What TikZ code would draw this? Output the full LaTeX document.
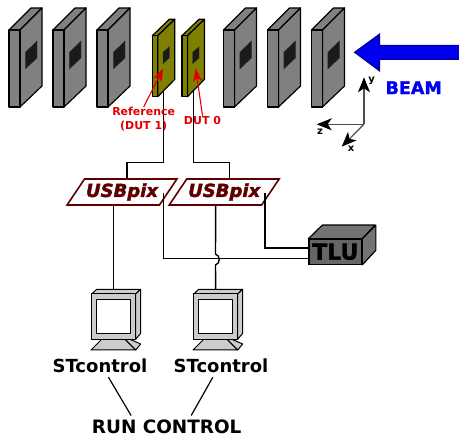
\documentclass[tikz,border=0pt]{standalone}
\usepackage{fontspec}
\setmainfont{DejaVu Sans}
\newfontfamily\heavyface[BoldFeatures={FakeBold=1.5},BoldItalicFeatures={FakeBold=2}]{DejaVu Sans}
\usetikzlibrary{arrows.meta,shapes.geometric}
\definecolor{planegray}{HTML}{808080}
\definecolor{windowgray}{HTML}{1A1A1A}
\definecolor{dutolive}{HTML}{808000}
\definecolor{usbred}{HTML}{5F0000}
\definecolor{tlugray}{HTML}{666666}
\definecolor{tlulight}{HTML}{737373}
\definecolor{pcgray}{HTML}{CCCCCC}
\definecolor{labelred}{HTML}{E00000}
\definecolor{beamblue}{HTML}{0000F0}
\definecolor{beamedge}{HTML}{0000A0}
\tikzset{
  plane/.style={draw=black,line width=1.2pt,fill=planegray,line join=round},
  dutplane/.style={draw=black,line width=1.2pt,fill=dutolive,line join=round},
  window/.style={draw=black!80,line width=0.4pt,fill=windowgray},
  wire/.style={draw=black,line width=1.4pt},
  usbbox/.style={draw=usbred,line width=1.6pt,fill=white,text=usbred,trapezium,
    trapezium left angle=46,trapezium right angle=134,trapezium stretches=true,
    minimum width=110pt,minimum height=26pt,inner sep=0pt,
    font=\fontsize{18}{18}\heavyface\bfseries\itshape},
  pcpart/.style={draw=black,line width=1pt,fill=pcgray,line join=round},
  boldlabel/.style={inner sep=0pt,font=\fontsize{18}{18}\selectfont\bfseries},
  duttext/.style={text=labelred,inner sep=0pt,align=center,
    font=\fontsize{11}{14}\selectfont\bfseries},
  dutarrow/.style={draw=labelred,line width=1.1pt,-{Stealth[length=13pt,width=9pt,inset=3pt]}},
  axisarrow/.style={draw=black!70,line width=1.2pt,-{Stealth[length=15pt,width=12pt,inset=4pt,color=black]}},
  axistext/.style={inner sep=0pt,font=\fontsize{10}{10}\selectfont\bfseries}
}
\begin{document}
\begin{tikzpicture}[x=1pt,y=-1pt]
  \useasboundingbox (0,0) rectangle (459,436);

  \coordinate (dutone) at (163.3,85);
  \coordinate (duttwo) at (193.5,85);
  \coordinate (wireone) at (127,162.3);
  \coordinate (wiretwo) at (229.3,162.3);
  \coordinate (trigone) at (163.3,193);
  \coordinate (trigtwo) at (265,193);
  \coordinate (tluone) at (309,258.7);
  \coordinate (tlutwo) at (309,248);
  \coordinate (axisorigin) at (364,124.3);
  \coordinate (axisy) at (364,77.3);
  \coordinate (axisz) at (316.7,124.3);
  \coordinate (axisx) at (341.7,146.7);
  \coordinate (windowone) at (163.3,68.3);
  \coordinate (windowtwo) at (195.7,68.3);
  \coordinate (jumptop) at (215.5,254);
  \coordinate (jumpbottom) at (215.5,265);

  \node[usbbox] (usbone) at (122,192) {USBpix};
  \node[usbbox] (usbtwo) at (224.2,192) {USBpix};

  \foreach \px in {9,53,97,223.5,267.5,311.5} {
    \draw[plane] (\px,30) -- ++(22,-22) -- ++(11,0) -- ++(-22,22) -- cycle;
    \draw[plane] (\px+11,30) -- ++(22,-22) -- ++(0,78) -- ++(-22,21) -- cycle;
    \draw[plane] (\px,30) -- ++(11,0) -- ++(0,77) -- ++(-11,0) -- cycle;
    \draw[window] (\px+16.3,52.3) -- ++(11.7,-11.3) -- ++(0,17) -- ++(-11.7,11) -- cycle;
  }

  \draw[wire] (dutone) |- (wireone) -- (usbone.north -| wireone);
  \draw[wire] (duttwo) |- (wiretwo) -- (usbtwo.north -| wiretwo);

  \foreach \px in {152.3,182} {
    \draw[dutplane] (\px,35.7) -- ++(17,-16.4) -- ++(5.5,0) -- ++(-17,16.4) -- cycle;
    \draw[dutplane] (\px+5.5,35.7) -- ++(17,-16.4) -- ++(0,60) -- ++(-17,17.4) -- cycle;
    \draw[dutplane] (\px,35.7) -- ++(5.5,0) -- ++(0,61) -- ++(-5.5,0) -- cycle;
    \draw[window] (\px+10.7,52.3) -- ++(6.3,-5.6) -- ++(0,11.3) -- ++(-6.3,5.7) -- cycle;
  }

  \draw[fill=beamblue,draw=beamedge,line width=1.4pt,line join=miter]
    (459,45.7) -- (379.3,45.7) -- (379.3,34.5) -- (354.8,52.3) -- (379.3,70.5) -- (379.3,59.3) -- (459,59.3);
  \node[inner sep=0pt,text=beamblue,font=\fontsize{17.5}{18}\heavyface\bfseries] (beam) at (413.7,87.7) {BEAM};

  \draw[axisarrow] (axisorigin) -- (axisy);
  \draw[axisarrow] (axisorigin) -- (axisz);
  \draw[axisarrow] (axisorigin) -- (axisx);
  \node[axistext] (ylabel) at (371.7,80.7) {y};
  \node[axistext] (zlabel) at (320,132) {z};
  \node[axistext] (xlabel) at (351,148.5) {x};

  \node[duttext] (reflabel) at (143.7,119) {Reference\\(DUT 1)};
  \node[duttext] (dutlabel) at (202.5,120) {DUT 0};
  \draw[dutarrow] (reflabel.north) -- (windowone);
  \draw[dutarrow] (dutlabel.north) -- (windowtwo);

  \node[draw=black,line width=1.2pt,fill=tlugray,minimum width=52.7pt,minimum height=25pt,
    inner sep=0pt,font=\fontsize{22}{22}\heavyface\bfseries] (tlu) at (335.3,251.8) {TLU};
  \draw[draw=black,line width=1.2pt,fill=tlulight,line join=round]
    (tlu.north west) -- ++(14,-13.6) -- ++(52.7,0) -- (tlu.north east) -- cycle;
  \draw[draw=black,line width=1.2pt,fill=tlulight,line join=round]
    (tlu.north east) -- ++(13.6,-13.6) -- ++(0,25.3) -- (tlu.south east) -- cycle;

  \foreach \name/\dx in {one/0,two/102} {
    \begin{scope}[xshift=\dx pt]
      \coordinate (pc\name) at (113.7,289.3);
      \draw[pcpart] (125,339.3) -- (130,339.3) -- (140.7,344) -- (135.7,350) -- cycle;
      \draw[pcpart] (91,350) -- (101.7,339.3) -- (125,339.3) -- (135.7,350) -- cycle;
      \draw[pcpart] (91.7,294) -- (96.7,289.3) -- (140.7,289.3) -- (135.7,294) -- cycle;
      \draw[pcpart] (135.7,294) -- (140.7,289.3) -- (140.7,333.3) -- (135.7,339.3) -- cycle;
      \draw[pcpart] (91.7,294) rectangle (135.7,339.3);
      \draw[pcpart,fill=white] (96.7,300) rectangle (130.3,333.3);
    \end{scope}
  }

  \draw[wire] (usbone.south -| pcone) -- (pcone);
  \draw[wire] (usbtwo.south -| pctwo) -- (jumptop)
    .. controls (220.5,255.5) and (220.5,263.5) .. (jumpbottom) -- (pctwo);
  \draw[wire] (trigone) |- (tluone);
  \draw[wire] (trigtwo) |- (tlutwo);

  \node[boldlabel,minimum height=22pt] (stcone) at (100,366) {STcontrol};
  \node[boldlabel,minimum height=22pt] (stctwo) at (221,366) {STcontrol};
  \node[boldlabel,font=\fontsize{18.4}{18}\selectfont\bfseries,minimum height=15pt] (run) at (166.7,427) {RUN CONTROL};
  \draw[line width=1.2pt,shorten >=4.4pt] (stcone.-53) -- (run.167.8);
  \draw[line width=1.2pt,shorten >=4.4pt] (stctwo.-126) -- (run.19);
\end{tikzpicture}
\end{document}
